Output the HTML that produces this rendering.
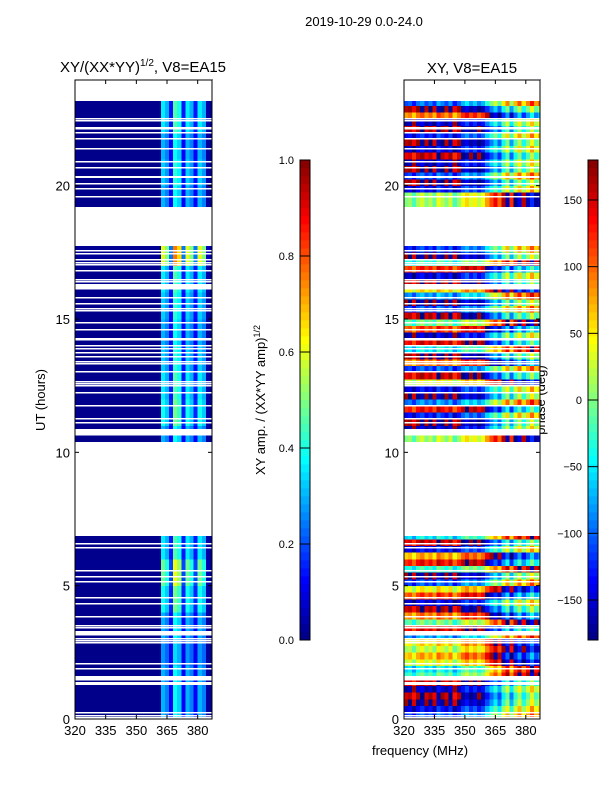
<!DOCTYPE html>
<html><head><meta charset="utf-8"><style>
html,body{margin:0;padding:0;background:#fff;}
svg text{font-family:"Liberation Sans",sans-serif;fill:#000;}
</style></head><body>
<svg id="fig" width="600" height="800" viewBox="0 0 600 800" xmlns="http://www.w3.org/2000/svg">
<rect x="0" y="0" width="600" height="800" fill="#fff"/>
<text x="364" y="26" font-size="13" text-anchor="middle">2019-10-29 0.0-24.0</text>
<text x="143" y="72" font-size="15" text-anchor="middle">XY/(XX*YY)<tspan font-size="10" dy="-6">1/2</tspan><tspan dy="6">, V8=EA15</tspan></text>
<text x="472" y="73" font-size="15" text-anchor="middle">XY, V8=EA15</text>
<text x="0" y="0" font-size="13" text-anchor="middle" transform="translate(45,400) rotate(-90)">UT (hours)</text>
<text x="420" y="755" font-size="13" text-anchor="middle">frequency (MHz)</text>
<text x="0" y="0" font-size="13" text-anchor="middle" transform="translate(265,400) rotate(-90)">XY amp. / (XX*YY amp)<tspan font-size="9" dy="-5">1/2</tspan></text>
<text x="0" y="0" font-size="13" text-anchor="middle" transform="translate(545,400) rotate(-90)">phase (deg)</text>
<g id="left" shape-rendering="crispEdges"></g>
<g id="right" shape-rendering="crispEdges"></g>
<g id="cb"></g>
<g id="axes"></g>
</svg>
<script>
// ---- data ----
const tMin = 0, tMax = 24, fMin = 320, fMax = 387;
const chanBins = [320,322,324,326,328,330,332,334,336,338,340,342,344,346,348,350,352,354,356,358,360,362,364,366,368,370,372,374,376,378,380,382,384,386];
const chanAmp = [0.01,0.01,0.01,0.01,0.01,0.01,0.01,0.01,0.01,0.01,0.01,0.01,0.01,0.01,0.01,0.01,0.01,0.01,0.01,0.01,0.01,0.30,0.25,0.12,0.38,0.33,0.12,0.30,0.25,0.12,0.30,0.25,0.03,0.01];
const hourAmp = [1.0,1.0,0.9,1.0,1.3,1.6,1.2,1.0,1,1,1.0,1.3,1.2,1.1,1.0,1.1,1.2,2.0,1,1.0,1.1,1.0,1.2,1.2];
const gaps = [[23.17,24],[22.49,22.53],[22.40,22.44],[22.11,22.20],[21.94,21.98],[21.73,21.77],[21.37,21.41],[20.86,20.90],[20.66,20.70],[20.29,20.36],[20.04,20.10],[19.84,19.88],[19.54,19.58],[17.71,19.17],[17.54,17.58],[17.42,17.46],[17.19,17.23],[17.09,17.13],[17.00,17.04],[16.78,16.82],[16.44,16.48],[16.38,16.42],[16.11,16.31],[15.75,15.79],[15.54,15.58],[15.34,15.38],[15.29,15.33],[14.82,14.86],[14.57,14.61],[14.18,14.27],[13.98,14.02],[13.84,13.88],[13.72,13.76],[13.57,13.61],[13.38,13.42],[13.29,13.33],[13.00,13.04],[12.63,12.67],[12.54,12.58],[12.47,12.51],[12.22,12.26],[11.73,11.77],[11.22,11.26],[11.07,11.11],[10.61,10.86],[6.84,10.36],[6.53,6.57],[6.38,6.42],[5.54,5.58],[5.32,5.36],[5.13,5.17],[4.51,4.55],[4.29,4.33],[3.82,3.86],[3.47,3.51],[3.38,3.42],[3.11,3.27],[2.99,3.03],[2.92,2.96],[2.82,2.86],[2.03,2.07],[1.84,1.88],[1.43,1.59],[1.27,1.38],[0.19,0.23],[0.10,0.14],[0,0.05]];
// phase per 0.25 h row (96 values, UT 0 -> 24)
const rowPhase = [-120,-150,170,150,-170,140,-30,-60,20,60,10,40,-90,130,-20,80,150,-160,100,30,-120,170,-40,120,60,-150,140,-60,90,160,0,0,
0,0,0,0,0,0,0,0,0,0,0,-170,160,-140,120,-100,170,-150,20,140,-120,80,160,-60,130,-170,100,-20,150,-120,170,-90,
40,150,-160,110,-40,170,-130,60,0,0,0,0,0,0,0,-150,160,-120,160,-170,140,-160,160,-140,150,-170,80,160,-110,0,0,0];
const chanPhase = [0,10,-20,15,30,0,20,-10,40,20,0,30,-20,10,40,60,30,50,20,40,80,110,140,100,160,200,120,180,220,160,200,240,190,210];
const ampTicks = [0,0.2,0.4,0.6,0.8,1.0];
const phaseTicks = [-150,-100,-50,0,50,100,150];
const timeTicks = [0,5,10,15,20];
const freqTicks = [320,335,350,365,380];

// ---- geometry ----
const panels = [{x0:75,x1:212,id:'left'},{x0:404,x1:540,id:'right'}];
const yTop = 79, yBot = 719;
function yScale(t){return yBot-(t-tMin)/(tMax-tMin)*(yBot-yTop);}
function xScale(p,f){return p.x0+(f-fMin)/(fMax-fMin)*(p.x1-p.x0);}
function jet(v){v=Math.max(0,Math.min(1,v));
 const r=Math.min(1,Math.max(0,Math.min(4*v-1.5,-4*v+4.5)));
 const g=Math.min(1,Math.max(0,Math.min(4*v-0.5,-4*v+3.5)));
 const b=Math.min(1,Math.max(0,Math.min(4*v+0.5,-4*v+2.5)));
 return `rgb(${Math.round(r*255)},${Math.round(g*255)},${Math.round(b*255)})`;}
const NS='http://www.w3.org/2000/svg';
function mk(tag,attrs,parent){const e=document.createElementNS(NS,tag);for(const k in attrs)e.setAttribute(k,attrs[k]);parent.appendChild(e);return e;}

// left amplitude heatmap
const L=document.getElementById('left');
for(let h=0;h<24;h++){
  for(let c=0;c<chanBins.length;c++){
    const f0=chanBins[c], f1=Math.min(fMax,f0+2);
    const x0=xScale(panels[0],f0), x1=xScale(panels[0],f1);
    const r=mk('rect',{x:x0,y:yScale(h+1),width:x1-x0+0.3,height:yScale(h)-yScale(h+1)+0.3,fill:jet(chanAmp[c]*hourAmp[h])},L);
    
    
  }
}
// right phase heatmap
const R=document.getElementById('right');
for(let i=0;i<rowPhase.length;i++){
  const t0=i*0.25,t1=t0+0.25;
  for(let c=0;c<chanBins.length;c++){
    const f0=chanBins[c], f1=Math.min(fMax,f0+2);
    const x0=xScale(panels[1],f0), x1=xScale(panels[1],f1);
    let ph=rowPhase[i]+chanPhase[c];
    ph=((ph+180)%360+360)%360-180;
    const r=mk('rect',{x:x0,y:yScale(t1),width:x1-x0+0.3,height:yScale(t0)-yScale(t1)+0.3,fill:jet((ph+180)/360)},R);
    
    
  }
}
// gaps (flagged data) in white
for(const p of panels){
  const g=document.getElementById(p.id);
  for(const gp of gaps){
    const r=mk('rect',{x:p.x0,y:Math.floor(yScale(gp[1])),width:p.x1-p.x0,height:Math.max(1.5,yScale(gp[0])-yScale(gp[1])),fill:'#fff'},g);
    
    
  }
}
// axes frames and ticks
const A=document.getElementById('axes');
for(const p of panels){
  const fr=mk('rect',{x:p.x0,y:yTop+1,width:p.x1-p.x0,height:yBot-yTop-1,fill:'none',stroke:'#000','stroke-width':1},A);
  
  
  for(const t of timeTicks){
    const y=yScale(t);
    mk('line',{x1:p.x0,x2:p.x0+4,y1:y,y2:y,stroke:'#000'},A);
    mk('line',{x1:p.x1,x2:p.x1-4,y1:y,y2:y,stroke:'#000'},A);
    const tx=mk('text',{x:p.x0-5,y:y+5,'font-size':13,'text-anchor':'end'},A);
    tx.textContent=t;
    
    
  }
  for(const f of freqTicks){
    const x=xScale(p,f);
    mk('line',{x1:x,x2:x,y1:yBot,y2:yBot-4,stroke:'#000'},A);
    mk('line',{x1:x,x2:x,y1:yTop+1,y2:yTop+5,stroke:'#000'},A);
    const tx=mk('text',{x:x,y:yBot+16,'font-size':13,'text-anchor':'middle'},A);
    tx.textContent=f;
    
    
  }
}
// colorbars
const C=document.getElementById('cb');
const cbTop=160, cbBot=640;
function cbar(x0,w,ticks,lo,hi,nm){
  const n=60;
  for(let i=0;i<n;i++){
    const y0=cbBot-(i+1)/n*(cbBot-cbTop);
    const r=mk('rect',{x:x0,y:y0,width:w,height:(cbBot-cbTop)/n+0.4,fill:jet((i+0.5)/n)},C);
    
    
  }
  mk('rect',{x:x0,y:cbTop,width:w,height:cbBot-cbTop,fill:'none',stroke:'#000'},C);
  for(const t of ticks){
    const y=cbBot-(t-lo)/(hi-lo)*(cbBot-cbTop);
    mk('line',{x1:x0,x2:x0+w,y1:y,y2:y,stroke:'#000'},C);
    const tx=mk('text',{x:x0-6,y:y+4,'font-size':11,'text-anchor':'end'},C);
    tx.textContent=(nm==='amp-colorbar')?t.toFixed(1):(t<0?'\u2212'+(-t):String(t));
    
    
  }
}
cbar(300,10,ampTicks,0,1,'amp-colorbar');
cbar(588,10,phaseTicks,-180,180,'phase-colorbar');
</script>
</body></html>
